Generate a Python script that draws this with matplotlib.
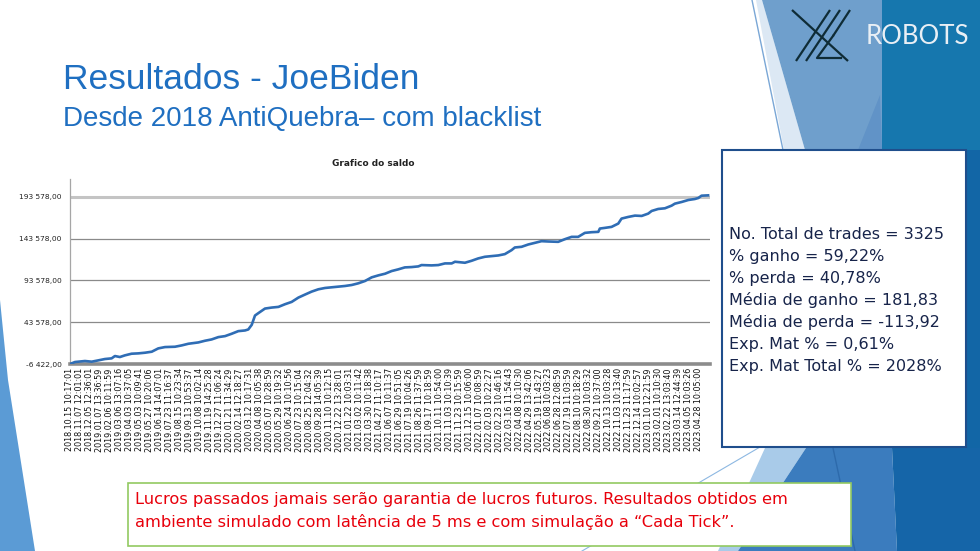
import numpy as np
import matplotlib
matplotlib.use("Agg")
import matplotlib.pyplot as plt
from matplotlib.patches import Polygon, Rectangle

# balance curve (trade number, saldo)
trades = [0, 26, 78, 113, 148, 182, 217, 234, 260, 286, 321, 356, 391, 426, 460, 495, 547, 582, 617, 669,
          703, 738, 773, 808, 842, 877, 912, 929, 947, 964, 981, 1016, 1051, 1086, 1120, 1155, 1190, 1224,
          1259, 1294, 1329, 1363, 1398, 1433, 1468, 1502, 1537, 1572, 1607, 1642, 1676, 1710, 1745, 1780,
          1815, 1832, 1884, 1919, 1954, 1989, 2006, 2058, 2093, 2127, 2162, 2197, 2232, 2266, 2301, 2318,
          2353, 2388, 2423, 2457, 2492, 2544, 2579, 2614, 2648, 2683, 2718, 2753, 2761, 2787, 2822, 2857,
          2874, 2909, 2944, 2979, 3013, 3031, 3065, 3100, 3135, 3152, 3187, 3222, 3256, 3274, 3291, 3325]
saldo = [-6422, -4040, -2850, -3640, -2060, -470, 320, 3100, 1910, 3900, 5880, 6280, 7070, 8260, 12230,
         13820, 14210, 15800, 17780, 19370, 21350, 22940, 25720, 26910, 29690, 32860, 33660, 34850, 40400,
         51510, 54290, 59840, 61030, 61830, 65000, 67780, 72940, 76510, 80080, 82860, 84450, 85240, 86030,
         86830, 88020, 90000, 92780, 97140, 99520, 101510, 104680, 106670, 109050, 109440, 110240, 111830,
         111430, 111830, 113810, 113810, 115790, 114600, 116980, 119760, 121740, 122540, 123330, 124920,
         129680, 132860, 133650, 136430, 138410, 140390, 140000, 139600, 142780, 145550, 145550, 150310,
         151110, 151510, 155470, 156270, 157460, 161430, 167380, 169360, 170950, 170550, 173330, 176500,
         178880, 179680, 182850, 185230, 187220, 189600, 190790, 191980, 194760, 195150]

y_ticks = [-6422, 43578, 93578, 143578, 193578]

date_labels = [
    "2018.10.15 10:17:01", "2018.11.07 12:01:01", "2018.12.05 12:36:01", "2019.01.07 13:36:59",
    "2019.02.06 10:11:59", "2019.03.06 13:07:16", "2019.04.03 10:37:05", "2019.05.03 10:09:41",
    "2019.05.27 10:20:06", "2019.06.14 14:07:01", "2019.07.23 11:16:37", "2019.08.15 10:23:34",
    "2019.09.13 10:53:37", "2019.10.08 10:02:14", "2019.11.19 14:25:28", "2019.12.27 11:06:24",
    "2020.01.21 11:34:29", "2020.02.14 12:18:27", "2020.03.12 10:17:31", "2020.04.08 10:05:38",
    "2020.05.07 10:28:59", "2020.05.29 10:19:32", "2020.06.24 10:10:56", "2020.07.23 10:15:04",
    "2020.08.25 12:04:32", "2020.09.28 14:05:39", "2020.11.10 10:12:15", "2020.12.22 13:28:01",
    "2021.01.22 10:03:31", "2021.03.02 10:11:42", "2021.03.30 10:18:38", "2021.04.27 11:10:17",
    "2021.06.07 10:11:37", "2021.06.29 10:51:05", "2021.07.19 10:04:26", "2021.08.26 11:37:59",
    "2021.09.17 10:18:59", "2021.10.11 10:54:00", "2021.11.03 10:10:39", "2021.11.23 10:15:59",
    "2021.12.15 10:06:00", "2022.01.07 10:08:59", "2022.02.03 10:22:27", "2022.02.23 10:46:16",
    "2022.03.16 11:54:43", "2022.04.08 10:10:30", "2022.04.29 13:42:06", "2022.05.19 11:43:27",
    "2022.06.08 10:03:23", "2022.06.28 12:08:59", "2022.07.19 11:03:59", "2022.08.10 10:18:29",
    "2022.08.30 10:03:32", "2022.09.21 10:37:00", "2022.10.13 10:03:28", "2022.11.03 10:13:40",
    "2022.11.23 11:17:59", "2022.12.14 10:02:57", "2023.01.10 12:21:59", "2023.02.01 10:10:30",
    "2023.02.22 13:03:40", "2023.03.14 12:44:39", "2023.04.05 10:03:26", "2023.04.28 10:05:00",
]
label_step = 52  # trades between category labels

stats = [
    "No. Total de trades = 3325",
    "% ganho = 59,22%",
    "% perda = 40,78%",
    "Média de ganho = 181,83",
    "Média de perda = -113,92",
    "Exp. Mat % = 0,61%",
    "Exp. Mat Total % = 2028%",
]
disclaimer = ["Lucros passados jamais serão garantia de lucros futuros. Resultados obtidos em",
              "ambiente simulado com latência de 5 ms e com simulação a \u201cCada Tick\u201d."]

W, H = 980, 551
fig = plt.figure(figsize=(W / 100, H / 100), dpi=100)
fig.patch.set_facecolor("white")

# slide background, pixel coordinates (y down)
bg = fig.add_axes([0, 0, 1, 1])
bg.set_xlim(0, W)
bg.set_ylim(H, 0)
bg.axis("off")

def poly(pts, color, z=1):
    bg.add_patch(Polygon(pts, closed=True, facecolor=color, edgecolor="none", zorder=z))

# decorative blue shapes
poly([(0, 300), (8, 380), (35, 551), (0, 551)], "#5b9bd5")
poly([(756, 0), (762, 0), (805, 150), (784, 150)], "#dce8f4")
poly([(762, 0), (882, 0), (882, 150), (805, 150)], "#6f9fcc")
poly([(880, 95), (882, 150), (858, 150)], "#6193c7", 2)
poly([(882, 0), (980, 0), (980, 150), (882, 150)], "#1677ae")
poly([(940, 150), (980, 150), (980, 448), (940, 448)], "#1266a6")
poly([(765, 448), (806, 448), (738, 551), (718, 551)], "#a9cbe9")
poly([(806, 448), (892, 448), (897, 551), (738, 551)], "#3b7cbe")
poly([(892, 448), (980, 448), (980, 551), (897, 551)], "#1565a8")
bg.plot([833, 855], [448, 551], color="#2d6aab", lw=1, zorder=2)
bg.plot([752, 783], [0, 150], color="#7aa7d6", lw=1, zorder=2)
bg.plot([582, 772], [551, 440], color="#8db8e2", lw=0.8, zorder=2)

# logo
logo_c = "#0f2c36"
for (x0, y0, x1, y1) in [(792, 10, 848, 61), (830, 10, 796, 61), (840, 10, 806, 61), (850, 10, 833, 36)]:
    bg.plot([x0, x1], [y0, y1], color=logo_c, lw=1.6, solid_capstyle="butt", zorder=3)
bg.plot([833, 817, 841], [36, 58, 58], color=logo_c, lw=1.6, zorder=3)
bg.text(866, 36, "ROBOTS", color="#e9eff5", fontsize=18.5, family="Lato", va="center", ha="left", zorder=3)

# titles
bg.text(63, 89, "Resultados - JoeBiden", color="#1f6fc1", fontsize=25.5, family="Liberation Sans",
        va="baseline", ha="left")
bg.text(63, 126, "Desde 2018 AntiQuebra\u2013 com blacklist", color="#1f6fc1", fontsize=20,
        family="Liberation Sans", va="baseline", ha="left")

# stats box
bg.add_patch(Rectangle((722, 150), 244, 297, facecolor="white", edgecolor="#1f4e8c", lw=1.5, zorder=4))
for i, s in enumerate(stats):
    bg.text(729, 239 + i * 22, s, color="#17244a", fontsize=11.5, family="DejaVu Sans",
            va="baseline", ha="left", zorder=5)

# disclaimer box
bg.add_patch(Rectangle((128, 483), 723, 63, facecolor="white", edgecolor="#92c961", lw=1.2, zorder=4))
for i, s in enumerate(disclaimer):
    bg.text(135, 504 + i * 23, s, color="#e8000b", fontsize=11.7, family="DejaVu Sans",
            va="baseline", ha="left", zorder=5)

# chart title
bg.text(373, 163, "Grafico do saldo", fontsize=6.5, fontweight="bold", color="#222222",
        ha="center", va="center")

# balance chart
ax = fig.add_axes([70 / W, (H - 364) / H, 640 / W, (364 - 179) / H])
ax.set_facecolor("none")
ax.plot(trades, saldo, color="#2f6db5", lw=1.9, zorder=3)
ax.set_xlim(0, 3335)
ax.set_ylim(-6422, 214700)

for v in y_ticks[1:]:
    top = v == y_ticks[-1]
    ax.axhline(v, color="#c4c4c4" if top else "#8a8a8a", lw=2.2 if top else 0.9, zorder=1)

ax.set_yticks(y_ticks)
ax.set_yticklabels([f"{v:,.2f}".replace(",", " ").replace(".", ",") for v in y_ticks],
                   fontsize=5.4, color="#222222")
pos = np.arange(len(date_labels)) * label_step
ax.set_xticks(pos)
ax.set_xticklabels(date_labels, rotation=90, fontsize=5.8, color="#111111", ha="center", va="top")
ax.tick_params(axis="x", length=0, pad=3)
ax.tick_params(axis="y", length=0, pad=6)
for side in ["top", "right"]:
    ax.spines[side].set_visible(False)
ax.spines["left"].set_color("#a6a6a6")
ax.spines["left"].set_linewidth(0.9)
ax.spines["bottom"].set_color("#8c8c8c")
ax.spines["bottom"].set_linewidth(2.6)

fig.savefig("out.png", dpi=100, facecolor="white")
